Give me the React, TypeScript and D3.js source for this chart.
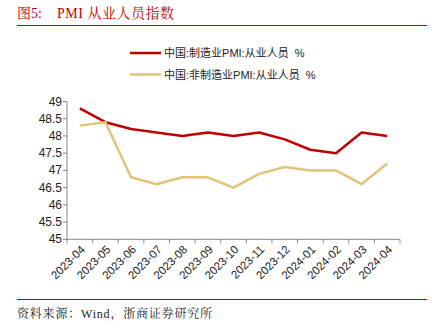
import React from "react";
import * as d3 from "d3";

const categories = ["2023-04","2023-05","2023-06","2023-07","2023-08","2023-09","2023-10","2023-11","2023-12","2024-01","2024-02","2024-03","2024-04"];
const manufacturing = [48.8,48.4,48.2,48.1,48.0,48.1,48.0,48.1,47.9,47.6,47.5,48.1,48.0];
const nonManufacturing = [48.3,48.4,46.8,46.6,46.8,46.8,46.5,46.9,47.1,47.0,47.0,46.6,47.2];
const yTicks = [45,45.5,46,46.5,47,47.5,48,48.5,49];
const seriesNames = ["中国:制造业PMI:从业人员  %", "中国:非制造业PMI:从业人员  %"];
const colors = ["#C00000", "#E2C477"];

export default function App() {
  const W = 437, H = 330;
  const left = 67, right = 400, top = 101.5, bottom = 239.3;
  const x = d3.scaleBand<string>().domain(categories).range([left, right]);
  const y = d3.scaleLinear().domain([45, 49]).range([bottom, top]);
  const line = d3.line<number>()
    .x((_, i) => (x(categories[i]) as number) + x.bandwidth() / 2)
    .y(d => y(d));
  const sans = "'Liberation Sans', Arial, 'Noto Sans CJK SC', sans-serif";
  const serif = "'Liberation Serif', 'Noto Serif CJK SC', 'Noto Sans CJK SC', serif";
  const series = [manufacturing, nonManufacturing];
  return (
    <svg width={W} height={H} style={{ position: "absolute", left: 0, top: 0, background: "#fff" }}>
      <text x={17} y={18} fontFamily={serif} fontSize={14} fill="#C00000">图5:</text>
      <text x={57} y={18} fontFamily={serif} fontSize={14} fill="#C00000" letterSpacing={0.5}>PMI 从业人员指数</text>
      <line x1={17} x2={427} y1={25.5} y2={25.5} stroke="#C00000" strokeWidth={1} />
      {series.map((s, i) => (
        <g key={i}>
          <line x1={130} x2={161} y1={53 + i * 21.5} y2={53 + i * 21.5} stroke={colors[i]} strokeWidth={2.5} />
          <text x={164} y={57 + i * 21.5} fontFamily={sans} fontSize={11} fill="#222" style={{ whiteSpace: "pre" }}>{seriesNames[i]}</text>
        </g>
      ))}
      {yTicks.map(t => (
        <g key={t}>
          <line x1={left - 4} x2={left} y1={y(t)} y2={y(t)} stroke="#888" />
          <text x={left - 5} y={y(t) + 4} textAnchor="end" fontFamily={sans} fontSize={12} fill="#222">{t}</text>
        </g>
      ))}
      <line x1={left} x2={left} y1={top} y2={bottom} stroke="#888" />
      <line x1={left} x2={right} y1={bottom} y2={bottom} stroke="#888" />
      {categories.map((c, i) => (
        <line key={"t" + i} x1={x(c) as number} x2={x(c) as number} y1={bottom} y2={bottom + 4} stroke="#888" />
      ))}
      <line x1={right} x2={right} y1={bottom} y2={bottom + 4} stroke="#888" />
      {categories.map(c => {
        const cx = (x(c) as number) + x.bandwidth() / 2 + 3;
        const cy = bottom + 8;
        return (
          <text key={c} transform={`translate(${cx},${cy}) rotate(-45)`} textAnchor="end" dy="0.35em" fontFamily={sans} fontSize={11.5} fill="#222">{c}</text>
        );
      })}
      {series.map((s, i) => (
        <path key={"s" + i} d={line(s) as string} fill="none" stroke={colors[i]} strokeWidth={2.5} strokeLinejoin="round" />
      ))}
      <line x1={17} x2={427} y1={299.5} y2={299.5} stroke="#C00000" strokeWidth={1} />
      <text x={17} y={318} fontFamily={serif} fontSize={12} fill="#222" letterSpacing={0.8}>资料来源：Wind，浙商证券研究所</text>
    </svg>
  );
}
